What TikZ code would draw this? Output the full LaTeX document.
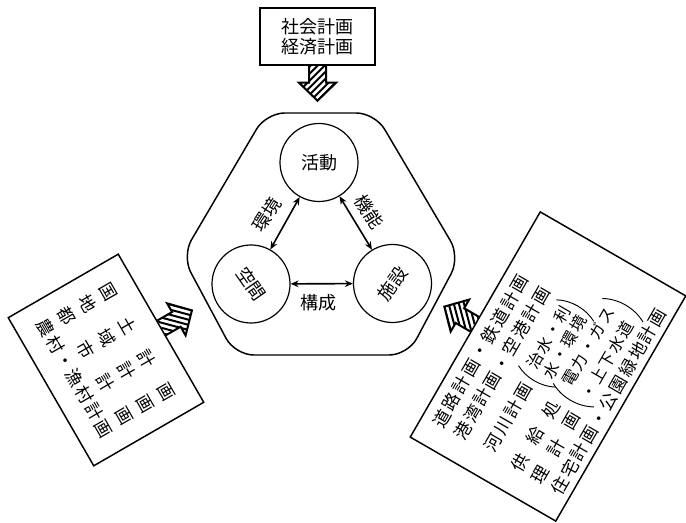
\documentclass[tikz,border=0pt]{standalone}
\usepackage{fontspec}
\setmainfont{Noto Sans CJK JP}
\newfontfamily\jpsp[LetterSpace=12]{Noto Sans CJK JP}
\usetikzlibrary{arrows.meta}
\newcommand\hatchedarrow[2]{%
  \begin{scope}[shift={#1}, rotate=#2]
    \begin{scope}
      \clip (0,-8.5) -- (17,-8.5) -- (17,-18.5) -- (35,0) -- (17,18.5) -- (17,8.5) -- (0,8.5) -- cycle;
      \foreach \k in {-56,-49,...,56} \draw[line width=1.5pt] (\k-20,-20) -- (\k+20,20);
    \end{scope}
    \draw[hatchout] (0,-8.5) -- (17,-8.5) -- (17,-18.5) -- (35,0) -- (17,18.5) -- (17,8.5) -- (0,8.5);
  \end{scope}}
\begin{document}
\begin{tikzpicture}[x=0.75pt,y=-0.75pt,
  box/.style={draw, line width=1.1pt, inner sep=0pt},
  circ/.style={draw, circle, line width=0.9pt, minimum size=58.5pt, inner sep=0pt, font=\fontsize{13.5pt}{15pt}\selectfont},
  rel/.style={{Stealth[length=6pt,width=5pt]}-{Stealth[length=6pt,width=5pt]}, line width=1.2pt},
  lbl/.style={font=\fontsize{13.5pt}{15pt}\selectfont, inner sep=1pt},
  hatchout/.style={line width=1.5pt, line join=miter},
  rt/.style={anchor=west, inner sep=0pt, font=\jpsp\fontsize{13pt}{16pt}\selectfont},
  rs/.style={anchor=west, inner sep=0pt, font=\jpsp\fontsize{12pt}{14pt}\selectfont},
  paren/.style={line width=0.7pt}
]
\useasboundingbox (0,0) rectangle (686,523);
\begin{scope}
\clip (0,0) rectangle (686,523);

% top box
\node[box, minimum width=86.25pt, minimum height=42.75pt, align=center,
      font=\fontsize{13.5pt}{15pt}\selectfont] (tbox) at (317.5,36.5) {社会計画\\経済計画};
\hatchedarrow{(tbox.south)}{-90}

% central hexagon
\draw[line width=1.1pt, rounded corners=14pt] (320,113) -- (375,113) -- (460,257) -- (408,355) -- (235,355) -- (182,256) -- (266,113) -- cycle;

% circles
\node[circ] (katsu) at (319,162.5) {活動};
\node[circ, rotate=-55] (kukan) at (251,284) {空間};
\node[circ, rotate=55] (shisetsu) at (392.5,283.5) {施設};

\draw[rel] (katsu) -- (kukan);
\draw[rel] (katsu) -- (shisetsu);
\draw[rel] (kukan) -- (shisetsu);

\node[lbl, rotate=57] (kankyo) at (267,215) {環境};
\node[lbl, rotate=-57] (kino) at (369,212) {機能};
\node[lbl] (kosei) at (318,303) {構成};

% left box
\node[box, rotate=-60, minimum width=128.25pt, minimum height=95.25pt, align=center,
      font=\jpsp\fontsize{13pt}{18pt}\selectfont] (lbox) at (106,360)
  {\makebox[100pt]{国\hfill 土\hfill 計\hfill 画}\\
   \makebox[100pt]{地\hfill 域\hfill 計\hfill 画}\\
   \makebox[100pt]{都\hfill 市\hfill 計\hfill 画}\\
   \makebox[100pt]{農村・漁村計画}};
\hatchedarrow{(lbox.north)}{30}

% right box
\node[box, rotate=60, minimum width=195pt, minimum height=126pt] (rbox) at (548,366.5) {};
\hatchedarrow{(rbox.north)}{150}
\begin{scope}[shift={(rbox.center)}, rotate=60, transform shape]
  \node[rt] (r1) at (-107,-66) {道路計画・鉄道計画};
  \node[rt] (r2) at (-107,-41.5) {港湾計画・空港計画};
  \node[rt] (r3) at (-102,-9) {河川計画};
  \node[rs] (r3a) at (-10,-14) {治水・利};
  \node[rs] (r3b) at (-10,5) {水・環境};
  \draw[paren] (-14,-26) .. controls (-21,-13) and (-21,4) .. (-14,17);
  \draw[paren] (62,-26) .. controls (69,-13) and (69,4) .. (62,17);
  \node[rt] (r4) at (-106,24) {\makebox[59pt]{供\hfill 給\hfill 処}};
  \node[rt] (r5) at (-106,47.5) {\makebox[59pt]{理\hfill 計\hfill 画}};
  \node[rs] (r4a) at (-7,25) {電力・ガス};
  \node[rs] (r5a) at (-9,48) {・上下水道};
  \draw[paren] (-12,13) .. controls (-20,27) and (-20,46) .. (-12,60);
  \draw[paren] (86,13) .. controls (94,27) and (94,46) .. (86,60);
  \node[rt] (r6) at (-106,70) {住宅計画・公園緑地計画};
\end{scope}
\end{scope}
\end{tikzpicture}
\end{document}
